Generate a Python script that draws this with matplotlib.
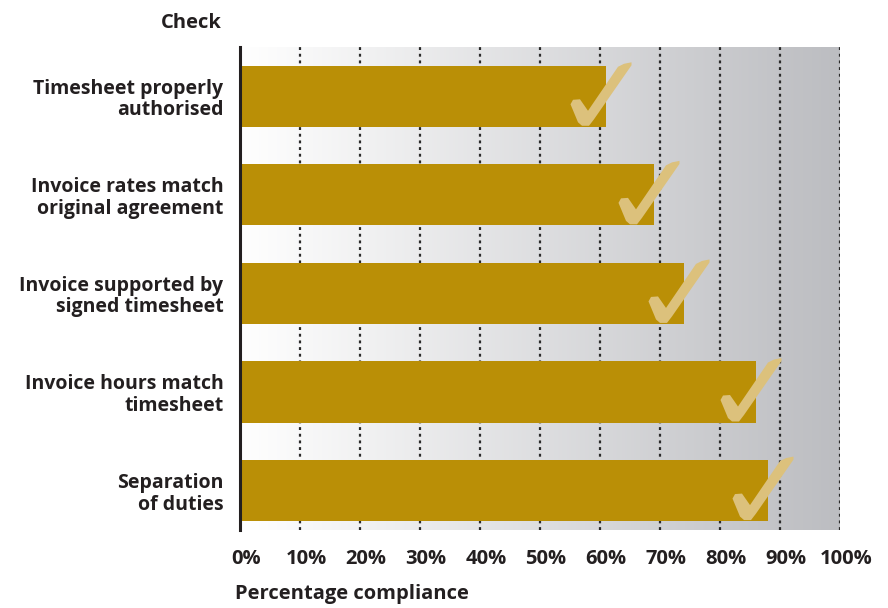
import numpy as np
import matplotlib
matplotlib.use("Agg")
import matplotlib.pyplot as plt
import matplotlib.transforms as mtransforms
from matplotlib.colors import LinearSegmentedColormap
from matplotlib.patches import Polygon

checks = ["Timesheet properly\nauthorised",
          "Invoice rates match\noriginal agreement",
          "Invoice supported by\nsigned timesheet",
          "Invoice hours match\ntimesheet",
          "Separation\nof duties"]
compliance = [61, 69, 74, 86, 88]
ticks = [0, 10, 20, 30, 40, 50, 60, 70, 80, 90, 100]

bar_col = "#ba8f06"
tick_col = "#dcc17c"
txt_col = "#231f20"

plt.rcParams['font.family'] = ['Open Sans', 'DejaVu Sans']
plt.rcParams['font.weight'] = 'bold'

fig = plt.figure(figsize=(8.88, 6.08), dpi=100)
ax = fig.add_axes([240/888, 1-530/608, 600/888, 483/608])

# background gradient white -> grey
cmap = LinearSegmentedColormap.from_list("bg", ["#ffffff", "#bcbdc1"])
grad = np.linspace(0, 1, 256).reshape(1, -1)
ax.imshow(grad, cmap=cmap, aspect='auto', extent=[0, 100, 4.4, -0.5], zorder=0)

for t in ticks[1:]:
    ax.axvline(t, color="#2a2a2a", lw=1.6, ls=(0, (1.3, 1.7)), zorder=1)

y = np.arange(len(checks))
ax.barh(y, compliance, height=0.62, color=bar_col, zorder=2)

# tick mark shape: offsets in (pixels) relative to bar end / bar centre
shape = np.array([(-35.5, 8), (-33, 3.5), (-26, 3), (-18, 14.5), (12, -29.5),
                  (18, -32.5), (25.5, -34), (25.5, -31), (-12, 23),
                  (-17, 29.5), (-24, 29.5), (-28, 26)])
for yi, v in zip(y, compliance):
    pts = np.column_stack([v + shape[:, 0] / 6.0, yi + shape[:, 1] / 98.6])
    ax.add_patch(Polygon(pts, closed=True, color=tick_col, lw=0, zorder=3,
                         joinstyle='round'))

ax.set_xlim(0, 100)
ax.set_ylim(4.4, -0.5)
ax.set_xticks(ticks)
ax.set_xticklabels([f"{t}%" for t in ticks])
ax.set_yticks(y)
ax.set_yticklabels(checks, ha='right', multialignment='right', linespacing=1.1)
ax.tick_params(axis='both', length=0, colors=txt_col)
ax.tick_params(axis='x', labelsize=14.5, pad=14)
ax.tick_params(axis='y', labelsize=14, pad=12)
off = mtransforms.ScaledTranslation(6/100, 0, fig.dpi_scale_trans)
for lab in ax.get_xticklabels():
    lab.set_transform(lab.get_transform() + off)

for s in ["top", "right", "bottom"]:
    ax.spines[s].set_visible(False)
ax.spines["left"].set_color(txt_col)
ax.spines["left"].set_linewidth(2.2)
ax.spines["left"].set_zorder(5)

fig.text(222/888, 1-23/608, "Check", ha='right', va='center',
         fontsize=14.5, fontweight='bold', color=txt_col)
fig.text(235/888, 1-594/608, "Percentage compliance", ha='left', va='center',
         fontsize=14.5, fontweight='bold', color=txt_col)

fig.savefig("out.png", dpi=100)
